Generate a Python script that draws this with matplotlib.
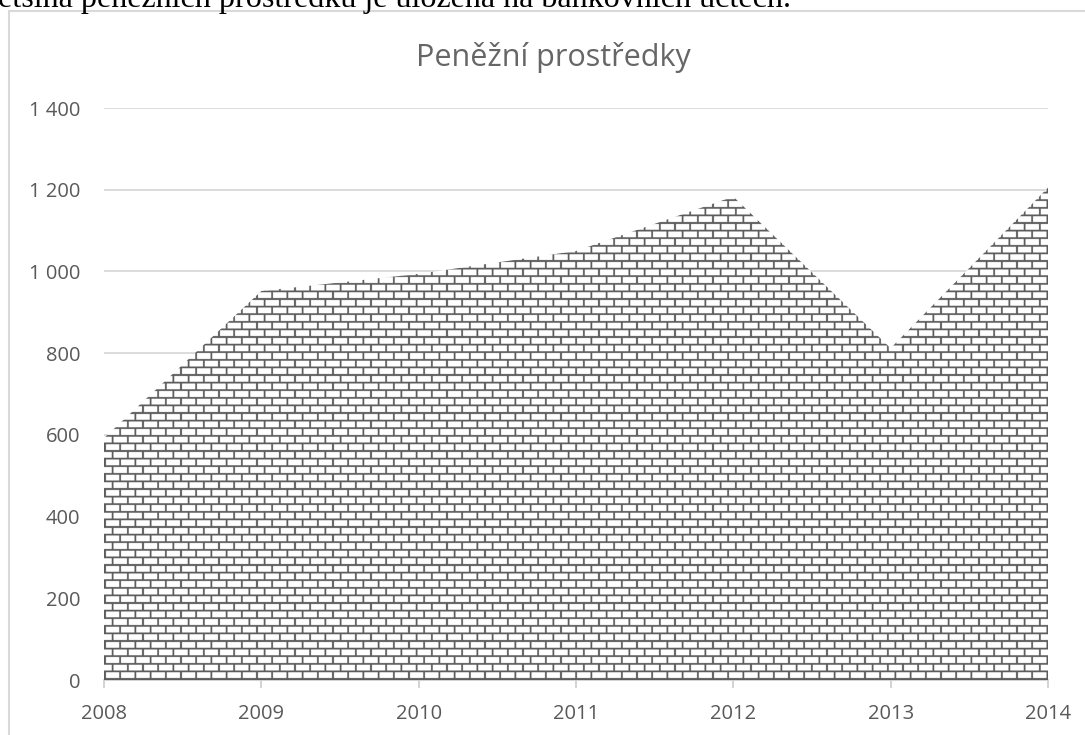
import numpy as np
import matplotlib
matplotlib.use("Agg")
import matplotlib.pyplot as plt
from matplotlib.patches import Rectangle

years = [2008, 2009, 2010, 2011, 2012, 2013, 2014]
cash = [592, 952, 994, 1050, 1183, 812, 1205]
y_ticks = [0, 200, 400, 600, 800, 1000, 1200, 1400]
y_labels = ["0", "200", "400", "600", "800", "1 000", "1 200", "1 400"]

W, H = 1085, 735
fig = plt.figure(figsize=(W / 100, H / 100), dpi=100)

# chart frame (right edge lies outside the picture)
fig.patches.append(Rectangle((9 / W, -0.1), 1.2, 1 - 11 / H + 0.1,
                             transform=fig.transFigure, fill=False,
                             edgecolor="#d9d9d9", linewidth=1.5))

# clipped line of the document text above the chart
t = fig.text(-2 / W, 1 - 7 / H, "ětšina peněžních prostředků je uložena na bankovních účtech.",
             family="Liberation Serif", fontsize=20, color="black", va="baseline", ha="left")
fig.canvas.draw()
w = t.get_window_extent().width
t.set_fontsize(20 * 792 / w)

ax = fig.add_axes([104 / W, (H - 680) / H, 944 / W, 572 / H])
ax.set_xlim(2008, 2014)
ax.set_ylim(0, 1400)

poly = ax.fill_between(years, cash, 0, facecolor="none", edgecolor="none", zorder=2)

# brick fill pattern, clipped to the area
s = 4
pw, ph = 944 * s, 572 * s
yy, xx = np.mgrid[0:ph, 0:pw] / s
row_h, brick_w, lw = 7.6, 15.2, 1.8
row = np.floor(yy / row_h)
hline = (yy % row_h) < lw
vline = ((xx + (row % 2) * brick_w / 2) % brick_w) < lw
img = np.where(hline | vline, 0.36, 1.0)
im = ax.imshow(img, cmap="gray", vmin=0, vmax=1, extent=(2008, 2014, 0, 1400),
               aspect="auto", interpolation="antialiased", zorder=2)
im.set_clip_path(poly.get_paths()[0], transform=ax.transData)

ax.set_yticks(y_ticks)
ax.set_yticklabels(y_labels)
ax.set_xticks(years)
ax.set_xticklabels([str(y) for y in years])
ax.grid(axis="y", color="#d9d9d9", linewidth=1.3, zorder=0)
for sp in ["top", "right", "left"]:
    ax.spines[sp].set_visible(False)
ax.spines["bottom"].set_color("#d0d0d0")
ax.spines["bottom"].set_linewidth(1.3)
ax.spines["bottom"].set_zorder(1)
ax.tick_params(axis="y", length=0, pad=17, labelsize=14.5, labelcolor="#595959")
ax.tick_params(axis="x", length=6, width=1.3, color="#d0d0d0", pad=11,
               labelsize=14.5, labelcolor="#595959")
for lab in ax.get_xticklabels() + ax.get_yticklabels():
    lab.set_family("Open Sans")

fig.text(553 / W, 1 - 66 / H, "Peněžní prostředky", family="Open Sans", fontsize=22,
         color="#666666", ha="center", va="baseline")

fig.savefig("out.png", dpi=100)
